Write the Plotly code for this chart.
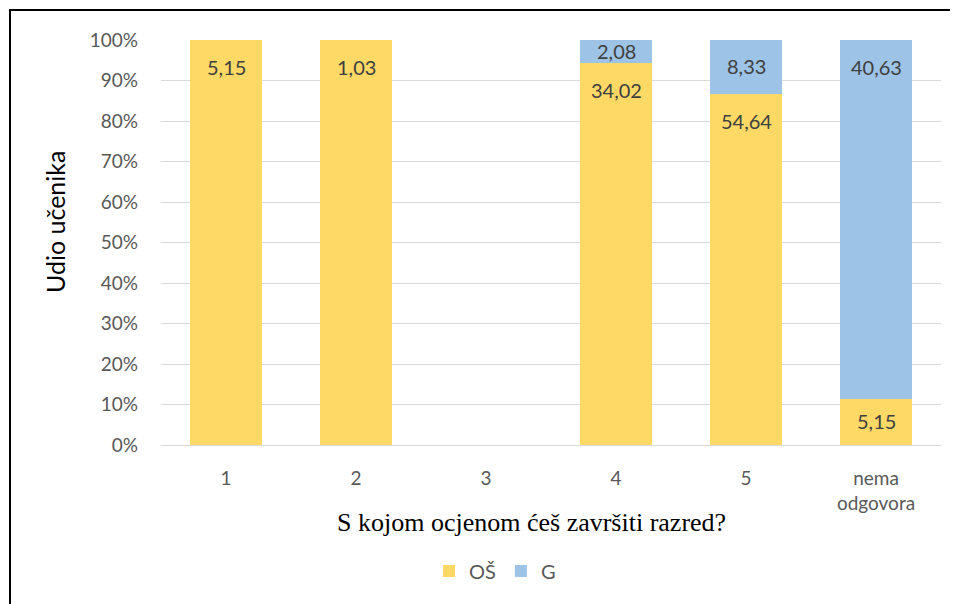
import plotly.graph_objects as go

categories = ["1", "2", "3", "4", "5", "nema<br>odgovora"]
os_values = [5.15, 1.03, 0, 34.02, 54.64, 5.15]
g_values = [0, 0, 0, 2.08, 8.33, 40.63]
y_ticks = [0, 10, 20, 30, 40, 50, 60, 70, 80, 90, 100]
y_tick_labels = [f"{v}%" for v in y_ticks]

def fmt(v):
    return f"{v:.2f}".replace(".", ",")

SANS = "Lato, Open Sans, sans-serif"
label_font = dict(family=SANS, size=20, color="#404040")

# page offset of 8px (body margin) is compensated in the margins
ML, MT, MR, MB = 153, 32, 25, 167
PLOT_H = 604 - MT - MB  # pixels per 100%
PX_PER_PCT = PLOT_H / 100.0

fig = go.Figure()
fig.add_trace(go.Bar(x=categories, y=os_values, name="OŠ", marker_color="#FFD966",
                     marker_line_width=0, hoverinfo="skip"))
fig.add_trace(go.Bar(x=categories, y=g_values, name="G", marker_color="#9DC3E6",
                     marker_line_width=0, hoverinfo="skip"))

# data labels placed "inside end" of each normalized segment
annotations = []
for idx, (o, g) in enumerate(zip(os_values, g_values)):
    total = o + g
    if total == 0:
        continue
    base = 0.0
    for v in (o, g):
        if v == 0:
            continue
        share = v / total * 100
        top = base + share
        seg_px = share * PX_PER_PCT
        shift = min(27, seg_px / 2 - 1)
        annotations.append(dict(x=idx, y=top, xref="x", yref="y", text=fmt(v),
                                showarrow=False, yanchor="middle", yshift=-shift,
                                font=label_font))
        base = top

annotations.append(dict(text="S kojom ocjenom ćeš završiti razred?", xref="paper", yref="paper",
                        x=(523 - ML) / 780, y=(437 - 514) / PLOT_H, showarrow=False,
                        xanchor="center", yanchor="middle",
                        font=dict(family="Liberation Serif, Times New Roman, serif", size=26, color="black")))
annotations.append(dict(text="Udio učenika", xref="paper", yref="paper",
                        x=(47 - ML) / 780, y=(437 - 214) / PLOT_H, showarrow=False, textangle=-90,
                        xanchor="center", yanchor="middle",
                        font=dict(family=SANS, size=25, color="black")))

fig.update_layout(
    width=958, height=604,
    barmode="stack", barnorm="percent", bargap=0.446,
    plot_bgcolor="white", paper_bgcolor="white",
    margin=dict(l=ML, r=MR, t=MT, b=MB, autoexpand=False),
    showlegend=True,
    legend=dict(orientation="h", x=(487 - ML) / 780, xanchor="center",
                y=(437 - 563) / PLOT_H, yanchor="middle",
                font=dict(family=SANS, size=20, color="#595959"),
                itemwidth=30, traceorder="normal"),
    xaxis=dict(
        tickfont=dict(family=SANS, size=19, color="#595959"),
        ticklabelstandoff=16, showgrid=False,
        showline=True, linecolor="#d9d9d9", linewidth=1,
    ),
    yaxis=dict(
        range=[0, 100], tickvals=y_ticks, ticktext=y_tick_labels,
        tickfont=dict(family=SANS, size=19, color="#595959"),
        ticklabelstandoff=22,
        showgrid=True, gridcolor="#d9d9d9", gridwidth=1, zeroline=False,
    ),
    annotations=annotations,
    shapes=[dict(type="rect", xref="paper", yref="paper",
                 x0=(2 - ML) / 780, x1=(990 - ML) / 780,
                 y0=(437 - 640) / PLOT_H, y1=(437 - 2) / PLOT_H,
                 line=dict(color="black", width=2), fillcolor="rgba(0,0,0,0)", layer="above")],
)

fig.write_html("out.html")
